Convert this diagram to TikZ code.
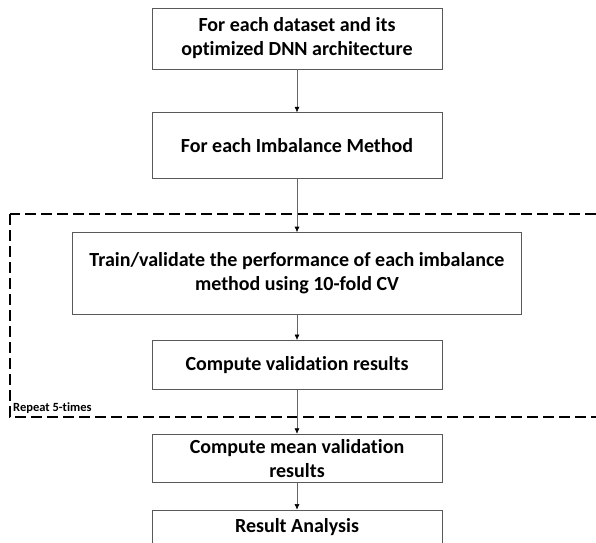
\documentclass[tikz,border=0pt]{standalone}
\usepackage{fontspec}
\setmainfont{Carlito}[Ligatures=NoCommon]
\usepackage{tikz}
\usetikzlibrary{positioning, arrows.meta}
\tikzstyle{stage}=[draw=black!65,line width=0.8pt,align=center,minimum width=290pt,inner sep=4pt]
\tikzstyle{arrow}=[draw=black!60,line width=0.6pt,-{Latex[black,length=5.5pt,width=5pt]}]
\tikzstyle{loop}=[draw=black,line width=1.3pt,dash pattern=on 11pt off 5pt]

\begin{document}
\begin{tikzpicture}[x=1pt,y=-1pt,font=\bfseries\fontsize{20}{24}\selectfont]
    \useasboundingbox (0,0) rectangle (596,542);

    \node[stage, minimum height=61pt] (data) at (297,38.5) {For each dataset and its\\optimized DNN architecture};
    \node[stage, minimum height=66pt, below=43pt of data] (imb) {For each Imbalance Method};
    \node[stage, minimum height=82pt, minimum width=449pt, below=53pt of imb] (train) {Train/validate the performance of each imbalance\\method using 10-fold CV};
    \node[stage, minimum height=49pt, below=25pt of train] (valid) {Compute validation results};
    \node[stage, minimum height=48pt, below=44pt of valid] (mean) {Compute mean validation\\results};
    \node[stage, minimum height=35pt, below=27pt of mean] (anal) {Result Analysis};

    % repeated part
    \draw[loop] (10,214) rectangle (604,417);
    \node[anchor=south west, inner sep=1pt, font=\bfseries\fontsize{12.5}{14}\selectfont] (rep) at (12,415) {Repeat 5-times};

    \draw[arrow] (data) -- (imb);
    \draw[arrow] (imb) -- (train);
    \draw[arrow] (train) -- (valid);
    \draw[arrow] (valid) -- (mean);
    \draw[arrow] (mean) -- (anal);
\end{tikzpicture}
\end{document}
